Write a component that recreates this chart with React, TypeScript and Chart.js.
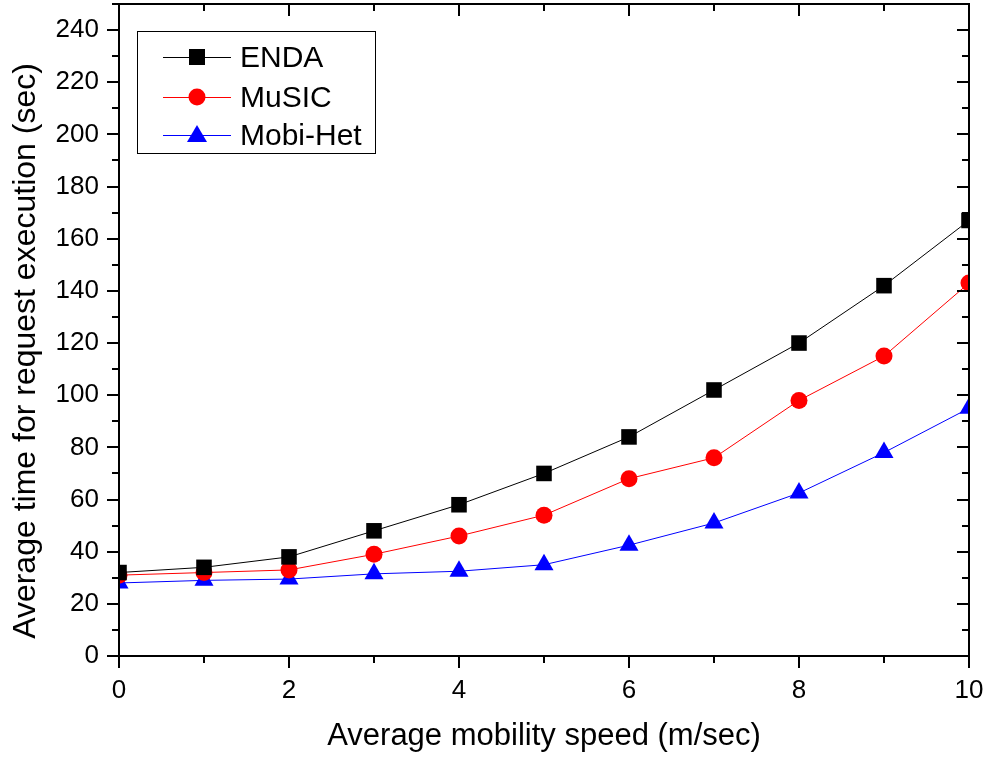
import React, { useEffect, useRef } from "react";
import { Chart, registerables, LineController } from "chart.js";

Chart.register(...registerables);

class FlatLineController extends (LineController as any) {
  getMaxOverflow() {
    return 0;
  }
}
(FlatLineController as any).id = "flatline";
(FlatLineController as any).defaults = (LineController as any).defaults;
(FlatLineController as any).overrides = (LineController as any).overrides;
Chart.register(FlatLineController as any);

const speeds = [0, 1, 2, 3, 4, 5, 6, 7, 8, 9, 10];
const enda = [32, 34, 38, 48, 58, 70, 84, 102, 120, 142, 167];
const music = [31, 32, 33, 39, 46, 54, 68, 76, 98, 115, 143];
const mobiHet = [28, 29, 29.5, 31.5, 32.5, 35, 42.5, 51, 62.5, 78, 95];

const seriesNames = ["ENDA", "MuSIC", "Mobi-Het"];
const seriesColors = ["#000000", "#ff0000", "#0000ff"];
const seriesMarkers = ["rect", "circle", "triangle"];
const markerRadii = [11, 8.5, 11];

const xTitle = "Average mobility speed (m/sec)";
const yTitle = "Average time for request execution (sec)";

const FONT = "Arial, 'Liberation Sans', sans-serif";

const framePlugin = {
  id: "frameTicks",
  afterDatasetsDraw(chart: any) {
    const { ctx, chartArea, scales } = chart;
    const { left, right, top, bottom } = chartArea;
    const xs = scales.x;
    const ys = scales.y;
    ctx.save();
    ctx.strokeStyle = "#000";
    ctx.lineWidth = 2;
    ctx.strokeRect(left, top, right - left, bottom - top);
    ctx.beginPath();
    for (let v = 0; v <= 250; v += 10) {
      const y = Math.round(ys.getPixelForValue(v));
      const len = v % 20 === 0 ? 12 : 7;
      ctx.moveTo(left, y);
      ctx.lineTo(left - len, y);
      ctx.moveTo(right, y);
      ctx.lineTo(right - len, y);
    }
    for (let v = 0; v <= 10; v += 1) {
      const x = Math.round(xs.getPixelForValue(v));
      const len = v % 2 === 0 ? 12 : 7;
      ctx.moveTo(x, bottom);
      ctx.lineTo(x, bottom + len);
      ctx.moveTo(x, top);
      ctx.lineTo(x, top + len);
    }
    ctx.stroke();

    // y axis title
    ctx.save();
    ctx.translate(35, 351);
    ctx.rotate(-Math.PI / 2);
    ctx.font = "32px " + FONT;
    ctx.fillStyle = "#000";
    ctx.textAlign = "center";
    ctx.textBaseline = "alphabetic";
    ctx.fillText(yTitle, 0, 0);
    ctx.restore();

    // legend
    const bx = 137, by = 31, bw = 238, bh = 122;
    ctx.fillStyle = "#fff";
    ctx.fillRect(bx, by, bw, bh);
    ctx.lineWidth = 1;
    ctx.strokeStyle = "#000";
    ctx.strokeRect(bx + 0.5, by + 0.5, bw, bh);
    const rows = [57, 97, 135];
    ctx.font = "30px " + FONT;
    ctx.textAlign = "left";
    ctx.textBaseline = "middle";
    for (let i = 0; i < seriesNames.length; i++) {
      const cy = rows[i];
      const c = seriesColors[i];
      ctx.strokeStyle = c;
      ctx.lineWidth = 1;
      ctx.beginPath();
      ctx.moveTo(163, cy + 0.5);
      ctx.lineTo(231, cy + 0.5);
      ctx.stroke();
      ctx.fillStyle = c;
      const mx = 197;
      if (seriesMarkers[i] === "rect") {
        ctx.fillRect(mx - 8, cy - 8, 16, 16);
      } else if (seriesMarkers[i] === "circle") {
        ctx.beginPath();
        ctx.arc(mx, cy, 8.5, 0, Math.PI * 2);
        ctx.fill();
      } else {
        ctx.beginPath();
        ctx.moveTo(mx, cy - 10);
        ctx.lineTo(mx + 10, cy + 7);
        ctx.lineTo(mx - 10, cy + 7);
        ctx.closePath();
        ctx.fill();
      }
      ctx.fillStyle = "#000";
      ctx.fillText(seriesNames[i], 240, cy + 2);
    }
    ctx.restore();
  },
};

const zeroPad = (s: any) => {
  s.paddingTop = 0;
  s.paddingBottom = 0;
  s.paddingLeft = 0;
  s.paddingRight = 0;
};

export default function App() {
  const ref = useRef<HTMLCanvasElement | null>(null);
  useEffect(() => {
    if (!ref.current) return;
    const values = [enda, music, mobiHet];
    const chart = new Chart(ref.current, {
      type: "flatline" as any,
      data: {
        datasets: values.map((vals, i) => ({
          label: seriesNames[i],
          data: speeds.map((s, j) => ({ x: s, y: vals[j] })),
          borderColor: seriesColors[i],
          backgroundColor: seriesColors[i],
          borderWidth: 1,
          pointStyle: seriesMarkers[i] as any,
          pointRadius: markerRadii[i],
          pointBorderWidth: 0,
          tension: 0,
          fill: false,
          clip: 0,
        })),
      },
      options: {
        animation: false,
        responsive: false,
        maintainAspectRatio: false,
        layout: { padding: { left: 0, top: 4, right: 17, bottom: 0 } },
        plugins: { legend: { display: false }, tooltip: { enabled: false } },
        scales: {
          x: {
            type: "linear",
            axis: "x",
            position: "bottom",
            min: 0,
            max: 10,
            grid: { display: false, drawTicks: false },
            border: { display: false },
            ticks: {
              stepSize: 2,
              padding: 19,
              color: "#000",
              font: { family: FONT, size: 26 },
              maxRotation: 0,
            },
            title: {
              display: true,
              text: xTitle,
              color: "#000",
              font: { family: FONT, size: 31 },
              padding: { top: 0, bottom: 5 },
            },
            afterFit: (s: any) => {
              s.height = 104;
              zeroPad(s);
            },
          },
          y: {
            type: "linear",
            axis: "y",
            position: "left",
            min: 0,
            max: 250,
            grid: { display: false, drawTicks: false },
            border: { display: false },
            ticks: {
              stepSize: 20,
              includeBounds: false,
              padding: 20,
              color: "#000",
              font: { family: FONT, size: 26 },
              callback: (v: any) => (Number(v) % 20 === 0 ? String(v) : ""),
            },
            title: { display: false, text: yTitle },
            afterFit: (s: any) => {
              s.width = 119;
              zeroPad(s);
            },
          },
        } as any,
      },
      plugins: [framePlugin],
    });
    return () => chart.destroy();
  }, []);
  return (
    <div style={{ position: "absolute", left: 0, top: 0, width: 986, height: 760, background: "#fff" }}>
      <canvas ref={ref} width={986} height={760} style={{ width: 986, height: 760 }} />
    </div>
  );
}
